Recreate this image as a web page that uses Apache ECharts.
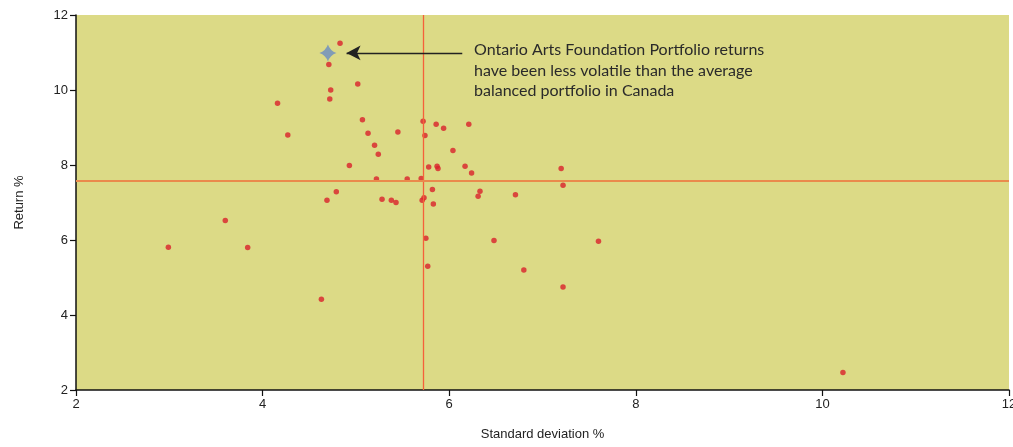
<!DOCTYPE html>
<html>
<head>
<meta charset="utf-8">
<script src="https://cdn.jsdelivr.net/npm/echarts@6/dist/echarts.min.js"></script>
<style>
  html, body { margin: 0; padding: 0; background: #fff; }
  #chart { width: 1013px; height: 447px; }
</style>
</head>
<body>
<div id="chart"></div>
<script>
// balanced funds: standard deviation % and return %
const stdDev = [
  4.83, 4.71, 5.02, 4.73, 4.72, 4.16, 5.07, 4.27, 5.13, 5.45,
  5.20, 5.24, 4.93, 5.22, 4.79, 4.69, 5.28, 5.38, 5.43, 3.60,
  5.72, 5.86, 5.94, 6.21, 5.74, 6.04, 5.78, 5.87, 5.88, 6.17,
  6.24, 7.20, 5.55, 5.70, 7.22, 5.82, 6.33, 6.31, 6.71, 5.73,
  5.71, 5.83, 5.75, 6.48, 7.60, 5.77, 6.80, 7.22, 2.99, 3.84,
  4.63, 10.22
];
const returns = [
  11.25, 10.68, 10.16, 10.00, 9.76, 9.65, 9.21, 8.80, 8.85, 8.88,
  8.53, 8.29, 7.99, 7.63, 7.29, 7.06, 7.09, 7.06, 7.00, 6.52,
  9.17, 9.09, 8.98, 9.09, 8.79, 8.39, 7.95, 7.97, 7.91, 7.97,
  7.79, 7.91, 7.63, 7.64, 7.46, 7.35, 7.30, 7.17, 7.21, 7.13,
  7.06, 6.96, 6.05, 5.99, 5.97, 5.30, 5.20, 4.75, 5.81, 5.80,
  4.42, 2.47
];
// Ontario Arts Foundation portfolio
const oafPoint = [4.70, 10.99];
// averages (cross lines)
const avgStdDev = 5.72;
const avgReturn = 7.57;
// arrow start (near the note) and tip (next to the star)
const arrowFromX = 6.14;
const arrowToX = 4.90;

const xTicks = [2, 4, 6, 8, 10, 12];
const yTicks = [2, 4, 6, 8, 10, 12];

const noteLines = [
  'Ontario Arts Foundation Portfolio returns',
  'have been less volatile than the average',
  'balanced portfolio in Canada'
];

const chart = echarts.init(document.getElementById('chart'));

const axisFont = '"Liberation Sans Narrow", "Liberation Sans", sans-serif';

const option = {
  animation: false,
  grid: {
    left: 76,
    right: 4,
    top: 15,
    bottom: 57,
    outerBoundsMode: 'none',
    containLabel: false,
    show: true,
    backgroundColor: '#dcda86',
    borderWidth: 0
  },
  xAxis: {
    type: 'value',
    min: xTicks[0],
    max: xTicks[xTicks.length - 1],
    interval: 2,
    name: 'Standard deviation %',
    nameLocation: 'middle',
    nameGap: 38,
    nameTextStyle: { color: '#222', fontSize: 13, fontFamily: axisFont },
    axisLine: { show: true, onZero: false, lineStyle: { color: '#111', width: 1.5 } },
    axisTick: { show: true, length: 6, lineStyle: { color: '#111', width: 1.2 } },
    axisLabel: { color: '#222', fontSize: 13, fontFamily: axisFont, margin: 8 },
    splitLine: { show: false }
  },
  yAxis: {
    type: 'value',
    min: yTicks[0],
    max: yTicks[yTicks.length - 1],
    interval: 2,
    name: 'Return %',
    nameLocation: 'middle',
    nameGap: 50,
    nameTextStyle: { color: '#222', fontSize: 13, fontFamily: axisFont },
    axisLine: { show: true, onZero: false, lineStyle: { color: '#111', width: 1.5 } },
    axisTick: { show: true, length: 6, lineStyle: { color: '#111', width: 1.2 } },
    axisLabel: { color: '#222', fontSize: 13, fontFamily: axisFont, margin: 8 },
    splitLine: { show: false }
  },
  series: [
    {
      name: 'Balanced funds',
      type: 'scatter',
      symbol: 'circle',
      symbolSize: 5.5,
      itemStyle: { color: '#d9212b' },
      data: stdDev.map((x, i) => [x, returns[i]]),
      markLine: {
        silent: true,
        symbol: ['none', 'none'],
        label: { show: false },
        lineStyle: { color: '#f5603a', width: 1.3, type: 'solid', opacity: 1 },
        data: [
          { xAxis: avgStdDev },
          { yAxis: avgReturn, lineStyle: { color: '#ea8a4c', width: 1.8, type: 'solid', opacity: 1 } }
        ]
      },
      z: 3
    },
    {
      name: 'Ontario Arts Foundation',
      type: 'scatter',
      symbol: 'path://M0,-10 Q2.6,-2.6 10,0 Q2.6,2.6 0,10 Q-2.6,2.6 -10,0 Q-2.6,-2.6 0,-10 Z',
      symbolSize: 17,
      itemStyle: { color: '#6a8cc2' },
      data: [oafPoint],
      markLine: {
        silent: true,
        symbol: ['none', 'arrow'],
        symbolSize: [11, 14],
        label: { show: false },
        lineStyle: { color: '#222', width: 1.3, type: 'solid', opacity: 1 },
        data: [
          [
            { coord: [arrowFromX, oafPoint[1]] },
            { coord: [arrowToX, oafPoint[1]] }
          ]
        ]
      },
      z: 4
    }
  ],
  graphic: [
    {
      type: 'text',
      left: 474,
      top: 40,
      style: {
        text: noteLines.join('\n'),
        fill: '#2a2a2a',
        font: '16px Lato, "Open Sans", sans-serif',
        lineHeight: 20.5
      }
    }
  ]
};

chart.setOption(option);
window.addEventListener('resize', () => chart.resize());
</script>
</body>
</html>
